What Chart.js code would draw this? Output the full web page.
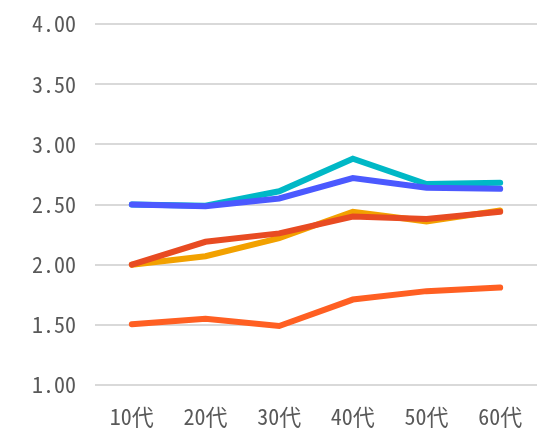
<!DOCTYPE html>
<html>
<head>
<meta charset="utf-8">
<script src="https://cdn.jsdelivr.net/npm/chart.js@4/dist/chart.umd.min.js"></script>
<style>
  html, body { margin: 0; padding: 0; background: #fff; }
  #wrap { width: 551px; height: 434px; }
</style>
</head>
<body>
<div id="wrap"><canvas id="c" width="551" height="434"></canvas></div>
<script>
// Age groups along the x axis
const ageGroups = ['10代', '20代', '30代', '40代', '50代', '60代'];

// Average scores per age group, one array per series
const seriesTeal   = [2.50, 2.49, 2.61, 2.88, 2.67, 2.68];
const seriesBlue   = [2.50, 2.485, 2.55, 2.72, 2.64, 2.63];
const seriesAmber  = [2.00, 2.07, 2.22, 2.44, 2.36, 2.45];
const seriesRed    = [2.00, 2.19, 2.26, 2.40, 2.38, 2.44];
const seriesOrange = [1.505, 1.55, 1.49, 1.71, 1.78, 1.81];

// Value axis range
const yMin = 1.0, yMax = 4.0, yStep = 0.5;

const labelFont = { family: '"Noto Sans Mono CJK JP", "Noto Sans CJK JP", "DejaVu Sans Mono", monospace', size: 22 };

function line(data, color) {
  return {
    data: data,
    borderColor: color,
    backgroundColor: color,
    borderWidth: 6,
    pointRadius: 0,
    pointHoverRadius: 0,
    tension: 0,
    fill: false,
    borderCapStyle: 'round',
    borderJoinStyle: 'miter'
  };
}

// Earlier datasets are painted on top
new Chart(document.getElementById('c'), {
  type: 'line',
  data: {
    labels: ageGroups,
    datasets: [
      line(seriesBlue, '#4B59FF'),
      line(seriesTeal, '#00B8C6'),
      line(seriesRed, '#E84B22'),
      line(seriesAmber, '#F2A100'),
      line(seriesOrange, '#FF5F22')
    ]
  },
  options: {
    responsive: false,
    animation: false,
    layout: { padding: { top: 24, right: 14, bottom: 0, left: 0 } },
    plugins: { legend: { display: false }, tooltip: { enabled: false } },
    scales: {
      x: {
        offset: true,
        afterFit: (scale) => {
          scale.height = 49;
          scale.paddingLeft = 0; scale.paddingRight = 0;
          scale.paddingTop = 0; scale.paddingBottom = 0;
        },
        grid: { display: false, drawTicks: false },
        border: { display: false },
        ticks: { color: '#595959', font: labelFont, padding: 18, maxRotation: 0 }
      },
      y: {
        min: yMin,
        max: yMax,
        afterFit: (scale) => { scale.width = 95; scale.paddingTop = 0; scale.paddingBottom = 0; },
        grid: { color: '#D9D9D9', lineWidth: 2, drawTicks: false },
        border: { display: false },
        ticks: {
          stepSize: yStep,
          color: '#595959',
          font: labelFont,
          padding: 19,
          callback: (v) => Number(v).toFixed(2)
        }
      }
    }
  }
});
</script>
</body>
</html>
